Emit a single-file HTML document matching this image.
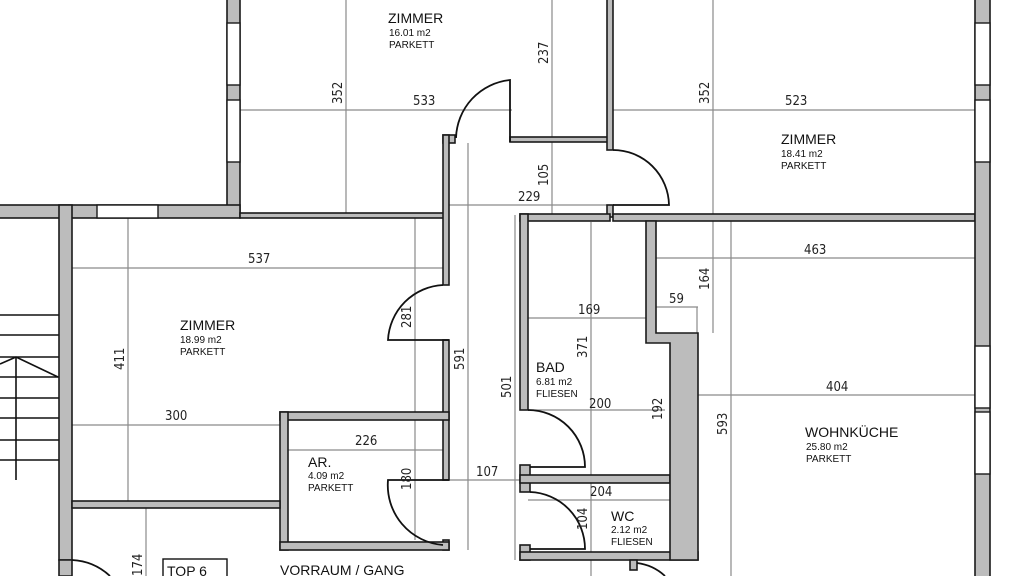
<!DOCTYPE html>
<html><head><meta charset="utf-8"><style>
html,body{margin:0;padding:0;background:#fff;width:1024px;height:576px;overflow:hidden}
svg{display:block}
.w{fill:#bcbcbc;stroke:#1a1a1a;stroke-width:1.6}
.win{fill:#fff;stroke:#1a1a1a;stroke-width:1.4}
.d{stroke:#8a8a8a;stroke-width:1.2;fill:none}
.door{stroke:#111;stroke-width:1.8;fill:none}
.dim{font-family:"DejaVu Sans Condensed","Liberation Sans Narrow","Liberation Sans",sans-serif;font-size:13px;fill:#222}
.t1{font-family:"Liberation Sans",sans-serif;font-size:14px;fill:#111}
.t2{font-family:"Liberation Sans",sans-serif;font-size:10px;fill:#111}
</style></head><body>
<svg width="1024" height="576" viewBox="0 0 1024 576" xmlns="http://www.w3.org/2000/svg">
<!-- stairs -->
<g stroke="#111" stroke-width="1.6">
<line x1="0" y1="315" x2="59" y2="315"/><line x1="0" y1="335" x2="59" y2="335"/>
<line x1="0" y1="357" x2="59" y2="357"/><line x1="0" y1="377" x2="59" y2="377"/>
<line x1="0" y1="398" x2="59" y2="398"/><line x1="0" y1="418" x2="59" y2="418"/>
<line x1="0" y1="440" x2="59" y2="440"/><line x1="0" y1="460" x2="59" y2="460"/>
<line x1="16" y1="357" x2="16" y2="480"/><line x1="0" y1="364" x2="16" y2="357"/>
<line x1="16" y1="357" x2="58" y2="377"/>
</g>
<!-- dimension lines -->
<g class="d">
<line x1="240" y1="110" x2="512" y2="110"/><line x1="346" y1="0" x2="346" y2="214"/>
<line x1="612" y1="110" x2="975" y2="110"/><line x1="713" y1="0" x2="713" y2="333"/>
<line x1="552" y1="0" x2="552" y2="215"/>
<line x1="449" y1="205" x2="610" y2="205"/>
<line x1="72" y1="268" x2="443" y2="268"/><line x1="128" y1="218" x2="128" y2="501"/>
<line x1="415" y1="218" x2="415" y2="540"/>
<line x1="72" y1="425" x2="280" y2="425"/>
<line x1="288" y1="450" x2="443" y2="450"/>
<line x1="468" y1="143" x2="468" y2="550"/>
<line x1="449" y1="480" x2="520" y2="480"/>
<line x1="515" y1="215" x2="515" y2="560"/>
<line x1="528" y1="318" x2="646" y2="318"/><line x1="591" y1="222" x2="591" y2="576"/>
<line x1="528" y1="410" x2="665" y2="410"/>
<line x1="528" y1="500" x2="670" y2="500"/>
<line x1="656" y1="258" x2="975" y2="258"/><line x1="731" y1="221" x2="731" y2="576"/>
<line x1="656" y1="307" x2="698" y2="307"/><line x1="697" y1="307" x2="697" y2="333"/>
<line x1="698" y1="395" x2="975" y2="395"/>
<line x1="146" y1="508" x2="146" y2="576"/>
</g>
<!-- walls -->
<rect class="w" x="227" y="-2" width="13" height="216"/>
<rect class="win" x="227" y="23" width="13" height="62"/>
<rect class="win" x="227" y="100" width="13" height="62"/>
<rect class="w" x="-2" y="205" width="242" height="13"/>
<rect class="win" x="97" y="205" width="61" height="13"/>
<rect class="w" x="59" y="205" width="13" height="355"/>
<rect class="w" x="240" y="213" width="207" height="5"/>
<rect class="w" x="443" y="135" width="12" height="8"/>
<rect class="w" x="443" y="135" width="6" height="150"/>
<rect class="w" x="443" y="340" width="6" height="140"/>
<rect class="w" x="443" y="540" width="6" height="10"/>
<rect class="w" x="280" y="412" width="169" height="8"/>
<rect class="w" x="280" y="412" width="8" height="138"/>
<rect class="w" x="280" y="542" width="169" height="8"/>
<rect class="w" x="72" y="501" width="208" height="7"/>
<rect class="w" x="510" y="137" width="102" height="5"/>
<rect class="w" x="607" y="-2" width="6" height="152"/>
<rect class="w" x="607" y="205" width="6" height="12"/>
<rect class="w" x="520" y="214" width="90" height="7"/>
<rect class="w" x="613" y="214" width="362" height="7"/>
<rect class="w" x="975" y="-2" width="15" height="580"/>
<rect class="win" x="975" y="23" width="15" height="62"/>
<rect class="win" x="975" y="100" width="15" height="62"/>
<rect class="win" x="975" y="346" width="15" height="62"/>
<rect class="win" x="975" y="412" width="15" height="62"/>
<rect class="w" x="520" y="214" width="8" height="196"/>
<rect class="w" x="520" y="465" width="10" height="27"/>
<rect class="w" x="520" y="475" width="150" height="8"/>
<rect class="w" x="520" y="545" width="10" height="15"/>
<rect class="w" x="520" y="552" width="178" height="8"/>
<path class="w" d="M646 221 H656 V333 H698 V560 H670 V343 H664 V343 H646 Z"/>
<rect class="w" x="630" y="560" width="7" height="10"/>
<path class="w" d="M59 560 H72 V576 H59 Z"/>
<!-- doors -->
<g class="door">
<path d="M510 142 V80 A60 60 0 0 0 456 138"/>
<path d="M613 205 H669 A56 56 0 0 0 613 150"/>
<path d="M449 340 H388 A58 58 0 0 1 443 285"/>
<path d="M449 480 H388 A60 60 0 0 0 443 545"/>
<path d="M528 410 A57 57 0 0 1 585 467 H530"/>
<path d="M530 492 A57 57 0 0 1 585 549 H530"/>
<path d="M72 560 A60 60 0 0 1 110 576"/>
<path d="M637 563 A50 50 0 0 1 665 576"/>
</g>
<rect x="163" y="559" width="64" height="20" fill="none" stroke="#111" stroke-width="1.4"/>
<!-- dimension texts -->
<g class="dim">
<text x="413" y="105">533</text>
<text x="785" y="105">523</text>
<text x="518" y="201">229</text>
<text x="248" y="263">537</text>
<text x="165" y="420">300</text>
<text x="355" y="445">226</text>
<text x="476" y="476">107</text>
<text x="578" y="314">169</text>
<text x="589" y="408">200</text>
<text x="590" y="496">204</text>
<text x="804" y="254">463</text>
<text x="826" y="391">404</text>
<text x="669" y="303">59</text>
<text transform="translate(342,104) rotate(-90)">352</text>
<text transform="translate(709,104) rotate(-90)">352</text>
<text transform="translate(548,64) rotate(-90)">237</text>
<text transform="translate(548,186) rotate(-90)">105</text>
<text transform="translate(124,370) rotate(-90)">411</text>
<text transform="translate(411,328) rotate(-90)">281</text>
<text transform="translate(464,370) rotate(-90)">591</text>
<text transform="translate(411,490) rotate(-90)">180</text>
<text transform="translate(511,398) rotate(-90)">501</text>
<text transform="translate(587,358) rotate(-90)">371</text>
<text transform="translate(662,420) rotate(-90)">192</text>
<text transform="translate(587,530) rotate(-90)">104</text>
<text transform="translate(709,290) rotate(-90)">164</text>
<text transform="translate(727,435) rotate(-90)">593</text>
<text transform="translate(142,576) rotate(-90)">174</text>
</g>
<!-- room labels -->
<g>
<text class="t1" x="388" y="23">ZIMMER</text><text class="t2" x="389" y="36">16.01 m2</text><text class="t2" x="389" y="48">PARKETT</text>
<text class="t1" x="781" y="144">ZIMMER</text><text class="t2" x="781" y="157">18.41 m2</text><text class="t2" x="781" y="169">PARKETT</text>
<text class="t1" x="180" y="330">ZIMMER</text><text class="t2" x="180" y="343">18.99 m2</text><text class="t2" x="180" y="355">PARKETT</text>
<text class="t1" x="308" y="467">AR.</text><text class="t2" x="308" y="479">4.09 m2</text><text class="t2" x="308" y="491">PARKETT</text>
<text class="t1" x="536" y="372">BAD</text><text class="t2" x="536" y="385">6.81 m2</text><text class="t2" x="536" y="397">FLIESEN</text>
<text class="t1" x="611" y="521">WC</text><text class="t2" x="611" y="533">2.12 m2</text><text class="t2" x="611" y="545">FLIESEN</text>
<text class="t1" x="805" y="437">WOHNKÜCHE</text><text class="t2" x="806" y="450">25.80 m2</text><text class="t2" x="806" y="462">PARKETT</text>
<text class="t1" x="167" y="576">TOP 6</text>
<text class="t1" x="280" y="575">VORRAUM / GANG</text>
</g>
</svg>
</body></html>
